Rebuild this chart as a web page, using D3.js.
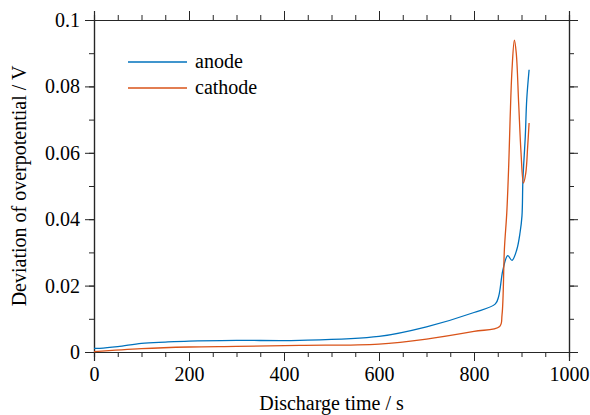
<!DOCTYPE html>
<html>
<head>
<meta charset="utf-8">
<script src="https://cdn.jsdelivr.net/npm/d3@7"></script>
<style>
  body { margin: 0; background: #fff; }
  svg text { font-family: "Liberation Serif", serif; }
</style>
</head>
<body>
<div id="chart"></div>
<script>
// discharge time (s) and deviation of overpotential (V)
const anodeT = [0, 12, 50, 100, 150, 200, 300, 433, 600, 700, 800, 845, 852, 861, 871, 880, 890, 897, 901, 903, 908, 911, 916];
const anodeV = [0.0011, 0.0011, 0.0016, 0.0026, 0.003, 0.0033, 0.0035, 0.0035, 0.0047, 0.0076, 0.0119, 0.0145, 0.0168, 0.0248, 0.029, 0.0276, 0.0308, 0.036, 0.041, 0.052, 0.065, 0.076, 0.085];
const cathodeT = [0, 100, 200, 300, 433, 600, 700, 800, 854, 859, 864, 869, 873, 876, 880, 885, 889, 894, 899, 904, 909, 913, 916];
const cathodeV = [0.0001, 0.001, 0.0015, 0.0017, 0.002, 0.0024, 0.0039, 0.0062, 0.0077, 0.0112, 0.031, 0.0419, 0.0559, 0.07, 0.085, 0.0939, 0.090, 0.075, 0.060, 0.0509, 0.0539, 0.0619, 0.069];
const seriesNames = ["anode", "cathode"];
const seriesColors = ["#0072BD", "#D95319"];
const xTicks = [0, 200, 400, 600, 800, 1000];
const yTicks = [0, 0.02, 0.04, 0.06, 0.08, 0.1];

const width = 590, height = 415;
const margin = {top: 20, right: 21, bottom: 63, left: 94};
const innerW = width - margin.left - margin.right;
const innerH = height - margin.top - margin.bottom;
const font = "Liberation Serif";
const axisColor = "#262626";

const svg = d3.select("#chart").append("svg")
    .attr("width", width)
    .attr("height", height)
    .attr("font-family", font);

const g = svg.append("g").attr("transform", `translate(${margin.left},${margin.top})`);

const x = d3.scaleLinear().domain([0, 1000]).range([0, innerW]);
const y = d3.scaleLinear().domain([0, 0.1]).range([innerH, 0]);

const xMinor = d3.range(0, 1001, 50);
const yMinor = d3.range(0, 0.1001, 0.01);

function styleAxis(sel) {
    sel.attr("font-family", font).attr("font-size", 20);
    sel.select(".domain").attr("stroke", axisColor).attr("stroke-width", 1.2);
    sel.selectAll(".tick line").attr("stroke", axisColor).attr("stroke-width", 1);
    sel.selectAll(".tick text").attr("fill", "#000");
}

// minor ticks first, then major ticks with labels
g.append("g").attr("transform", `translate(0,${innerH})`)
    .call(d3.axisBottom(x).tickValues(xMinor).tickSize(5).tickFormat(""))
    .call(styleAxis);
g.append("g").attr("transform", `translate(0,${innerH})`)
    .call(d3.axisBottom(x).tickValues(xTicks).tickSize(9).tickPadding(6).tickFormat(d3.format("d")))
    .call(styleAxis);
g.append("g")
    .call(d3.axisTop(x).tickValues(xMinor).tickSize(5).tickFormat(""))
    .call(styleAxis);
g.append("g")
    .call(d3.axisTop(x).tickValues(xTicks).tickSize(9).tickFormat(""))
    .call(styleAxis);

g.append("g")
    .call(d3.axisLeft(y).tickValues(yMinor).tickSize(5).tickFormat(""))
    .call(styleAxis);
g.append("g")
    .call(d3.axisLeft(y).tickValues(yTicks).tickSize(9).tickPadding(5).tickFormat(d => d === 0 ? "0" : d3.format("~g")(d)))
    .call(styleAxis);
g.append("g").attr("transform", `translate(${innerW},0)`)
    .call(d3.axisRight(y).tickValues(yMinor).tickSize(5).tickFormat(""))
    .call(styleAxis);
g.append("g").attr("transform", `translate(${innerW},0)`)
    .call(d3.axisRight(y).tickValues(yTicks).tickSize(9).tickFormat(""))
    .call(styleAxis);

// lines
const line = d3.line()
    .x(d => x(d[0]))
    .y(d => y(d[1]))
    .curve(d3.curveCatmullRom.alpha(0.5));

const series = [
    d3.zip(anodeT, anodeV),
    d3.zip(cathodeT, cathodeV)
];

g.selectAll(".series")
    .data(series)
    .enter()
    .append("path")
    .attr("class", "series")
    .attr("fill", "none")
    .attr("stroke", (d, i) => seriesColors[i])
    .attr("stroke-width", 1.3)
    .attr("d", line);

// legend
const legend = g.append("g").attr("transform", "translate(34,42)")
    .selectAll(".legend")
    .data(seriesNames)
    .enter()
    .append("g")
    .attr("class", "legend")
    .attr("transform", (d, i) => `translate(0,${i * 26})`);

legend.append("line")
    .attr("x1", 0).attr("x2", 59)
    .attr("y1", 0).attr("y2", 0)
    .attr("stroke", (d, i) => seriesColors[i])
    .attr("stroke-width", 1.3);

legend.append("text")
    .attr("x", 67)
    .attr("y", 0)
    .attr("dy", "0.3em")
    .attr("font-size", 20)
    .text(d => d);

// axis titles
svg.append("text")
    .attr("x", margin.left + innerW / 2)
    .attr("y", 410)
    .attr("text-anchor", "middle")
    .attr("font-size", 20)
    .text("Discharge time / s");

svg.append("text")
    .attr("transform", `translate(26,${margin.top + innerH / 2}) rotate(-90)`)
    .attr("text-anchor", "middle")
    .attr("font-size", 20)
    .text("Deviation of overpotential / V");
</script>
</body>
</html>
